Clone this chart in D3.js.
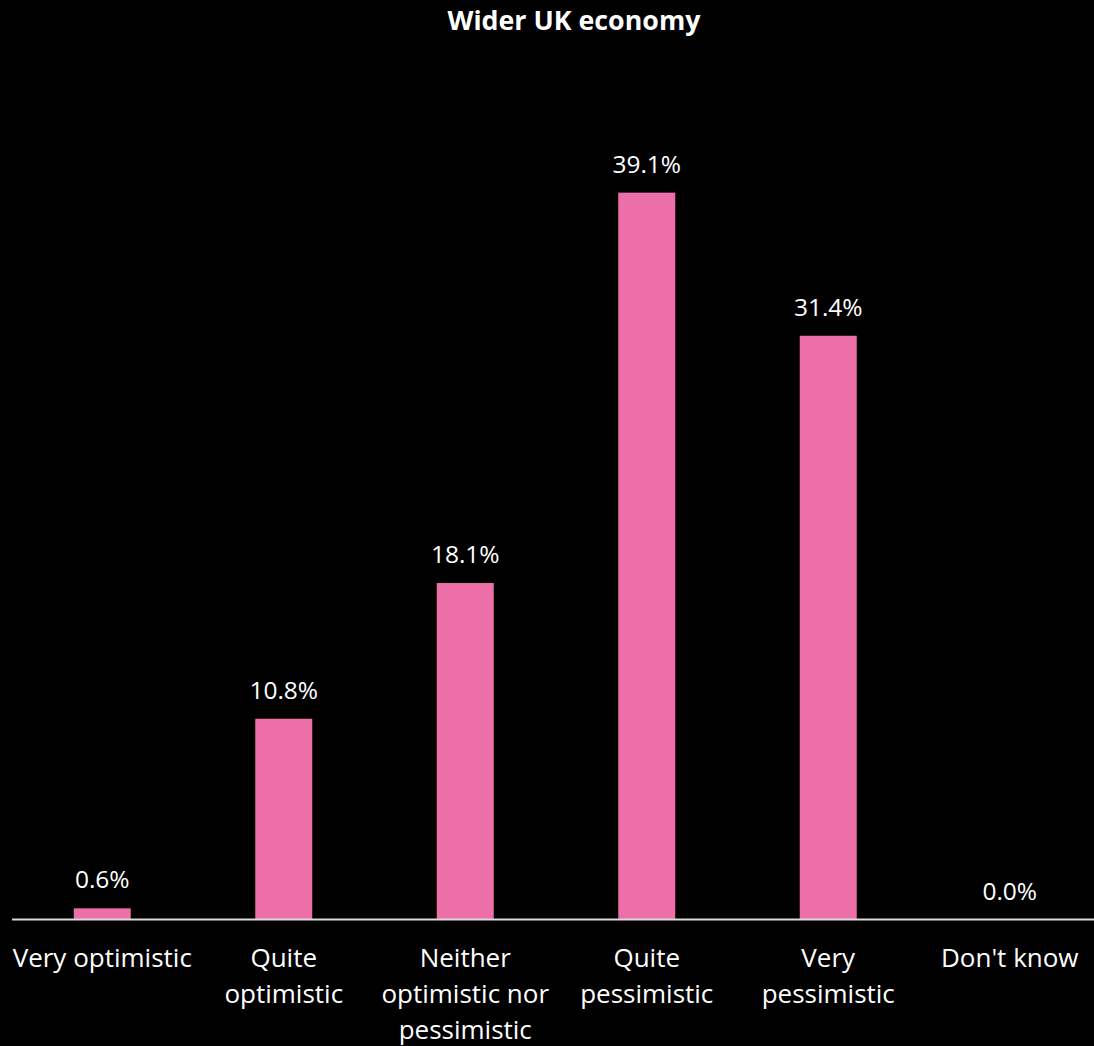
<!DOCTYPE html>
<html>
<head>
<meta charset="utf-8">
<script src="https://cdn.jsdelivr.net/npm/d3@7"></script>
<style>
  html, body { margin: 0; padding: 0; background: #000; }
  svg { display: block; }
</style>
</head>
<body>
<svg id="chart" width="1094" height="1046"></svg>
<script>
// Outlook for the wider UK economy: share of respondents per answer (%)
const categories = [
  ["Very optimistic"],
  ["Quite", "optimistic"],
  ["Neither", "optimistic nor", "pessimistic"],
  ["Quite", "pessimistic"],
  ["Very", "pessimistic"],
  ["Don't know"]
];
const values = [0.6, 10.8, 18.1, 39.1, 31.4, 0.0];
const title = "Wider UK economy";

const W = 1094, H = 1046;
const font = "'Open Sans', 'Noto Sans', sans-serif";
const svg = d3.select("#chart");

svg.append("rect").attr("width", W).attr("height", H).attr("fill", "#000");

const keys = categories.map(c => c.join(" "));
const x = d3.scaleBand().domain(keys).range([11.5, 1100.5]).paddingInner(0.686).paddingOuter(0.343);
const y = d3.scaleLinear().domain([0, 45]).range([919.5, 919.5 - 45 * 18.59]);

// title
svg.append("text")
  .attr("x", 574).attr("y", 29.5)
  .attr("text-anchor", "middle")
  .attr("fill", "#fff")
  .attr("font-family", font)
  .attr("font-weight", "bold")
  .attr("font-size", 26.8)
  .text(title);

// bars
svg.append("g").selectAll("rect")
  .data(values)
  .join("rect")
  .attr("x", (d, i) => x(keys[i]))
  .attr("width", x.bandwidth())
  .attr("y", d => y(d))
  .attr("height", d => y(0) - y(d))
  .attr("fill", "#ec6fa8");

// value labels
svg.append("g").selectAll("text")
  .data(values)
  .join("text")
  .attr("x", (d, i) => x(keys[i]) + x.bandwidth() / 2)
  .attr("y", d => y(d) - 20)
  .attr("text-anchor", "middle")
  .attr("fill", "#fff")
  .attr("font-family", font)
  .attr("font-size", 24.5)
  .text(d => d.toFixed(1) + "%");

// baseline
const axis = d3.axisBottom(x).tickSize(0).tickFormat("");
const gx = svg.append("g").attr("transform", `translate(0,${y(0)})`).call(axis);
gx.select(".domain").attr("stroke", "#d9d9d9").attr("stroke-width", 2)
  .attr("d", `M12,0H1094`);

// category labels
const lab = svg.append("g").selectAll("text")
  .data(categories)
  .join("text")
  .attr("x", (d, i) => x(keys[i]) + x.bandwidth() / 2)
  .attr("y", 967)
  .attr("text-anchor", "middle")
  .attr("fill", "#fff")
  .attr("font-family", font)
  .attr("font-size", 26);
lab.selectAll("tspan")
  .data(d => d)
  .join("tspan")
  .attr("x", function() { return d3.select(this.parentNode).attr("x"); })
  .attr("dy", (d, i) => i === 0 ? 0 : 36)
  .text(d => d);
</script>
</body>
</html>
